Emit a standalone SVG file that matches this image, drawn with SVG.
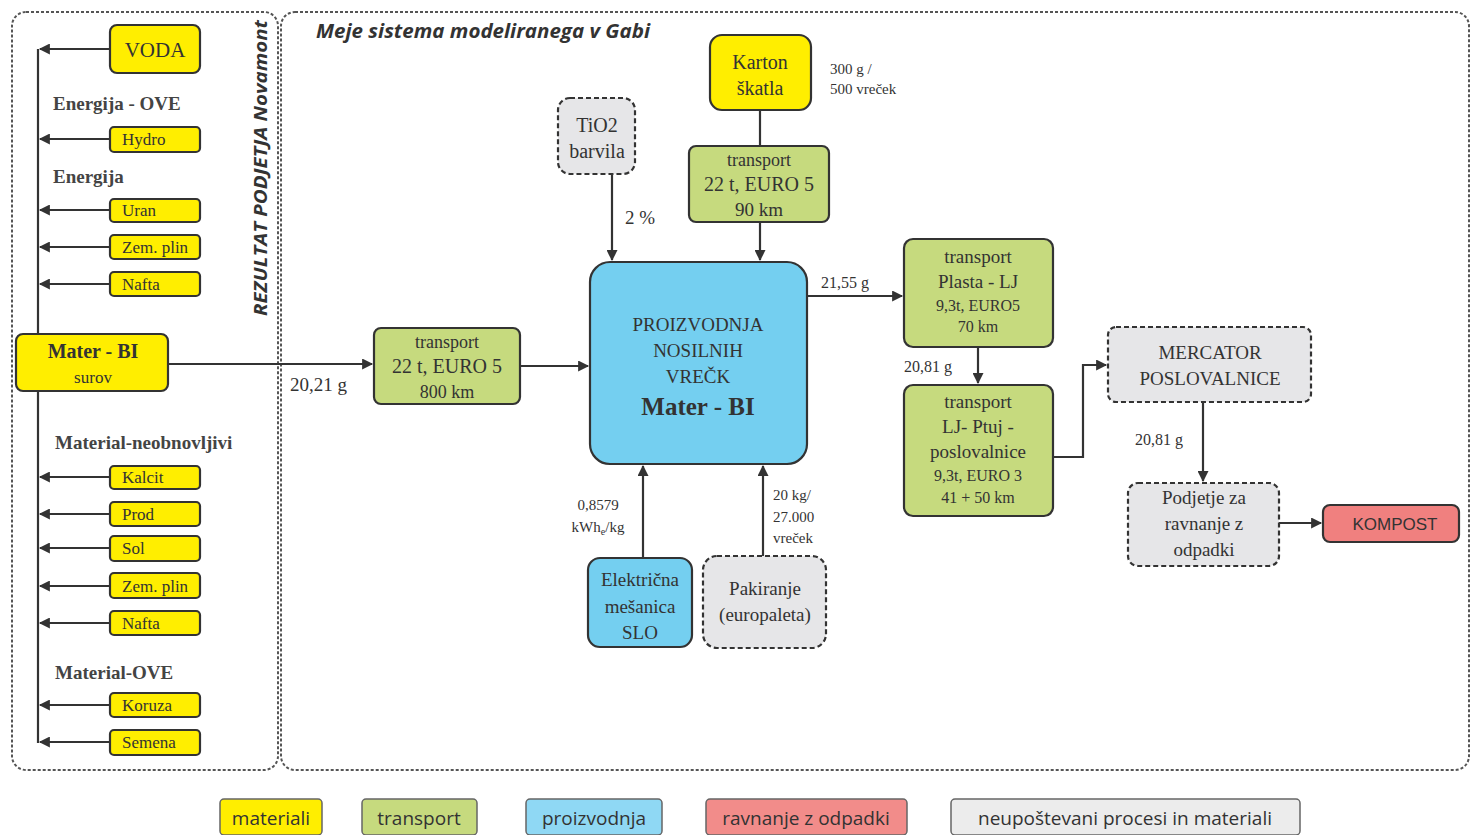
<svg xmlns="http://www.w3.org/2000/svg" width="1472" height="835" viewBox="0 0 1472 835">
<defs>
<marker id="ah" viewBox="0 0 10 10" refX="9" refY="5" markerWidth="5.5" markerHeight="5" orient="auto" markerUnits="strokeWidth">
<path d="M0,0 L10,5 L0,10 z" fill="#333"/>
</marker>
<style>
.t{font-family:"Liberation Serif","Times New Roman",serif;fill:#333;text-anchor:middle}
.s{font-family:"Liberation Serif","Times New Roman",serif;fill:#333}
.h{font-family:"Liberation Serif","Times New Roman",serif;fill:#444;font-weight:bold;font-size:19px}
.ln{stroke:#333;stroke-width:2.2;fill:none}
.a{stroke:#333;stroke-width:2.2;fill:none;marker-end:url(#ah)}
.y{fill:#ffee00;stroke:#333;stroke-width:2.2}
.g{fill:#c6da7e;stroke:#333;stroke-width:2.2}
.b{fill:#74cff0;stroke:#333;stroke-width:2.2}
.r{fill:#f0807f;stroke:#333;stroke-width:2.2}
.n{fill:#e6e6e8;stroke:#333;stroke-width:2.2;stroke-dasharray:5 3}
.bd{fill:none;stroke:#555;stroke-width:2;stroke-dasharray:3 2}
.lg{font-family:"Open Sans","Liberation Sans",sans-serif;font-size:19px;fill:#333;text-anchor:middle}
.lgb{stroke:#666;stroke-width:1.5}
</style>
</defs>
<rect width="1472" height="835" fill="#fff"/>

<g id="boundaries">
<rect class="bd" x="12" y="12" width="266" height="758" rx="14"/>
<rect class="bd" x="281" y="12" width="1188" height="758" rx="14"/>
<text x="267" y="168" transform="rotate(-90 267 168)" font-family="'Open Sans','Liberation Sans',sans-serif" font-style="italic" font-weight="bold" font-size="17" fill="#333" text-anchor="middle" textLength="296" lengthAdjust="spacingAndGlyphs">REZULTAT PODJETJA Novamont</text>
<text x="316" y="38" font-family="'Open Sans','Liberation Sans',sans-serif" font-style="italic" font-weight="bold" font-size="19" fill="#333" textLength="334" lengthAdjust="spacingAndGlyphs">Meje sistema modeliranega v Gabi</text>
</g>

<g id="connectors">
<line class="ln" x1="38" y1="49" x2="38" y2="743"/>
<line class="a" x1="110" y1="49" x2="40" y2="49"/>
<line class="a" x1="110" y1="139" x2="40" y2="139"/>
<line class="a" x1="110" y1="210" x2="40" y2="210"/>
<line class="a" x1="110" y1="247" x2="40" y2="247"/>
<line class="a" x1="110" y1="284" x2="40" y2="284"/>
<line class="a" x1="110" y1="477" x2="40" y2="477"/>
<line class="a" x1="110" y1="514" x2="40" y2="514"/>
<line class="a" x1="110" y1="548" x2="40" y2="548"/>
<line class="a" x1="110" y1="586" x2="40" y2="586"/>
<line class="a" x1="110" y1="623" x2="40" y2="623"/>
<line class="a" x1="110" y1="705" x2="40" y2="705"/>
<line class="a" x1="110" y1="742" x2="40" y2="742"/>
<line class="a" x1="168" y1="364" x2="372" y2="364"/>
<line class="a" x1="520" y1="366" x2="588" y2="366"/>
<line class="a" x1="612" y1="174" x2="612" y2="260"/>
<line class="ln" x1="760" y1="110" x2="760" y2="146"/>
<line class="a" x1="760" y1="222" x2="760" y2="260"/>
<line class="a" x1="807" y1="296" x2="902" y2="296"/>
<line class="a" x1="978" y1="347" x2="978" y2="383"/>
<polyline class="a" points="1053,457 1083,457 1083,365 1106,365"/>
<line class="a" x1="1203" y1="402" x2="1203" y2="481"/>
<line class="a" x1="1279" y1="523" x2="1321" y2="523"/>
<line class="a" x1="643" y1="558" x2="643" y2="466"/>
<line class="a" x1="763" y1="556" x2="763" y2="466"/>
</g>

<g id="labels">
<text class="h" x="53" y="110">Energija - OVE</text>
<text class="h" x="53" y="183">Energija</text>
<text class="h" x="55" y="449">Material-neobnovljivi</text>
<text class="h" x="55" y="679">Material-OVE</text>
<text class="s" x="290" y="391" font-size="19">20,21 g</text>
<text class="s" x="625" y="224" font-size="19">2 %</text>
<text class="s" x="830" y="74" font-size="15">300 g /</text>
<text class="s" x="830" y="94" font-size="15">500 vreček</text>
<text class="s" x="821" y="288" font-size="16">21,55 g</text>
<text class="s" x="904" y="372" font-size="16">20,81 g</text>
<text class="s" x="1135" y="445" font-size="16">20,81 g</text>
<text class="t" x="598" y="510" font-size="15">0,8579</text>
<text class="t" x="598" y="532" font-size="15">kWh<tspan font-size="10" dy="3">e</tspan><tspan dy="-3">/kg</tspan></text>
<text class="s" x="773" y="500" font-size="15">20 kg/</text>
<text class="s" x="773" y="522" font-size="15">27.000</text>
<text class="s" x="773" y="543" font-size="15">vreček</text>
</g>

<g id="voda"><rect class="y" x="110" y="25" width="90" height="48" rx="7"/><text class="t" x="155" y="57" font-size="21">VODA</text></g>
<g id="hydro"><rect class="y" x="110" y="127" width="90" height="25" rx="4"/><text class="s" x="122" y="145" font-size="17">Hydro</text></g>
<g id="uran"><rect class="y" x="110" y="199" width="90" height="23" rx="4"/><text class="s" x="122" y="216" font-size="17">Uran</text></g>
<g id="zemplin1"><rect class="y" x="110" y="235" width="90" height="24" rx="4"/><text class="s" x="122" y="253" font-size="17">Zem. plin</text></g>
<g id="nafta1"><rect class="y" x="110" y="272" width="90" height="24" rx="4"/><text class="s" x="122" y="290" font-size="17">Nafta</text></g>
<g id="materbi-surov"><rect class="y" x="16" y="334" width="152" height="57" rx="7"/><text class="t" x="93" y="358" font-size="20" font-weight="bold">Mater - BI</text><text class="t" x="93" y="383" font-size="17">surov</text></g>
<g id="kalcit"><rect class="y" x="110" y="466" width="90" height="23" rx="4"/><text class="s" x="122" y="483" font-size="17">Kalcit</text></g>
<g id="prod"><rect class="y" x="110" y="502" width="90" height="24" rx="4"/><text class="s" x="122" y="520" font-size="17">Prod</text></g>
<g id="sol"><rect class="y" x="110" y="536" width="90" height="25" rx="4"/><text class="s" x="122" y="554" font-size="17">Sol</text></g>
<g id="zemplin2"><rect class="y" x="110" y="573" width="90" height="25" rx="4"/><text class="s" x="122" y="592" font-size="17">Zem. plin</text></g>
<g id="nafta2"><rect class="y" x="110" y="611" width="90" height="24" rx="4"/><text class="s" x="122" y="629" font-size="17">Nafta</text></g>
<g id="koruza"><rect class="y" x="110" y="693" width="90" height="24" rx="4"/><text class="s" x="122" y="711" font-size="17">Koruza</text></g>
<g id="semena"><rect class="y" x="110" y="730" width="90" height="25" rx="4"/><text class="s" x="122" y="748" font-size="17">Semena</text></g>

<g id="transport-800"><rect class="g" x="374" y="328" width="146" height="76" rx="7"/>
<text class="t" x="447" y="348" font-size="18">transport</text><text class="t" x="447" y="373" font-size="20">22 t, EURO 5</text><text class="t" x="447" y="398" font-size="18">800 km</text></g>

<g id="tio2"><rect class="n" x="558" y="98" width="77" height="76" rx="12"/>
<text class="t" x="597" y="132" font-size="20">TiO2</text><text class="t" x="597" y="158" font-size="20">barvila</text></g>

<g id="karton"><rect class="y" x="710" y="35" width="101" height="75" rx="12"/>
<text class="t" x="760" y="69" font-size="20">Karton</text><text class="t" x="760" y="95" font-size="20">škatla</text></g>

<g id="transport-90"><rect class="g" x="689" y="146" width="140" height="76" rx="7"/>
<text class="t" x="759" y="166" font-size="18">transport</text><text class="t" x="759" y="191" font-size="20">22 t, EURO 5</text><text class="t" x="759" y="216" font-size="19">90 km</text></g>

<g id="proizvodnja"><rect class="b" x="590" y="262" width="217" height="202" rx="20"/>
<text class="t" x="698" y="331" font-size="19">PROIZVODNJA</text><text class="t" x="698" y="357" font-size="19">NOSILNIH</text><text class="t" x="698" y="383" font-size="19">VREČK</text>
<text class="t" x="698" y="415" font-size="25" font-weight="bold">Mater - BI</text></g>

<g id="elektricna"><rect class="b" x="588" y="558" width="104" height="89" rx="12"/>
<text class="t" x="640" y="586" font-size="19">Električna</text><text class="t" x="640" y="613" font-size="19">mešanica</text><text class="t" x="640" y="639" font-size="19">SLO</text></g>

<g id="pakiranje"><rect class="n" x="703" y="556" width="123" height="92" rx="14"/>
<text class="t" x="765" y="595" font-size="19">Pakiranje</text><text class="t" x="765" y="621" font-size="19">(europaleta)</text></g>

<g id="transport-plasta"><rect class="g" x="904" y="239" width="149" height="108" rx="9"/>
<text class="t" x="978" y="263" font-size="19">transport</text><text class="t" x="978" y="288" font-size="19">Plasta - LJ</text><text class="t" x="978" y="311" font-size="16">9,3t, EURO5</text><text class="t" x="978" y="332" font-size="16">70 km</text></g>

<g id="transport-ptuj"><rect class="g" x="904" y="385" width="149" height="131" rx="9"/>
<text class="t" x="978" y="408" font-size="19">transport</text><text class="t" x="978" y="433" font-size="19">LJ- Ptuj -</text><text class="t" x="978" y="458" font-size="19">poslovalnice</text><text class="t" x="978" y="481" font-size="16">9,3t, EURO 3</text><text class="t" x="978" y="503" font-size="16">41 + 50 km</text></g>

<g id="mercator"><rect class="n" x="1108" y="327" width="203" height="75" rx="8"/>
<text class="t" x="1210" y="359" font-size="19">MERCATOR</text><text class="t" x="1210" y="385" font-size="19">POSLOVALNICE</text></g>

<g id="podjetje"><rect class="n" x="1128" y="483" width="151" height="83" rx="10"/>
<text class="t" x="1204" y="504" font-size="19">Podjetje za</text><text class="t" x="1204" y="530" font-size="19">ravnanje z</text><text class="t" x="1204" y="556" font-size="19">odpadki</text></g>

<g id="kompost"><rect class="r" x="1323" y="505" width="136" height="37" rx="7"/>
<text x="1395" y="530" font-family="'Liberation Sans',Arial,sans-serif" font-size="17" fill="#333" text-anchor="middle">KOMPOST</text></g>

<g id="legend">
<rect class="lgb" x="220" y="799" width="102" height="36" rx="4" fill="#ffee00"/><text class="lg" x="271" y="825">materiali</text>
<rect class="lgb" x="362" y="799" width="115" height="36" rx="4" fill="#c6da7e"/><text class="lg" x="419" y="825">transport</text>
<rect class="lgb" x="526" y="799" width="136" height="36" rx="4" fill="#8fd8f4"/><text class="lg" x="594" y="825">proizvodnja</text>
<rect class="lgb" x="706" y="799" width="201" height="36" rx="4" fill="#f28c8a"/><text class="lg" x="806" y="825">ravnanje z odpadki</text>
<rect class="lgb" x="951" y="799" width="349" height="36" rx="4" fill="#ececec"/><text class="lg" x="1125" y="825">neupoštevani procesi in materiali</text>
</g>
</svg>
